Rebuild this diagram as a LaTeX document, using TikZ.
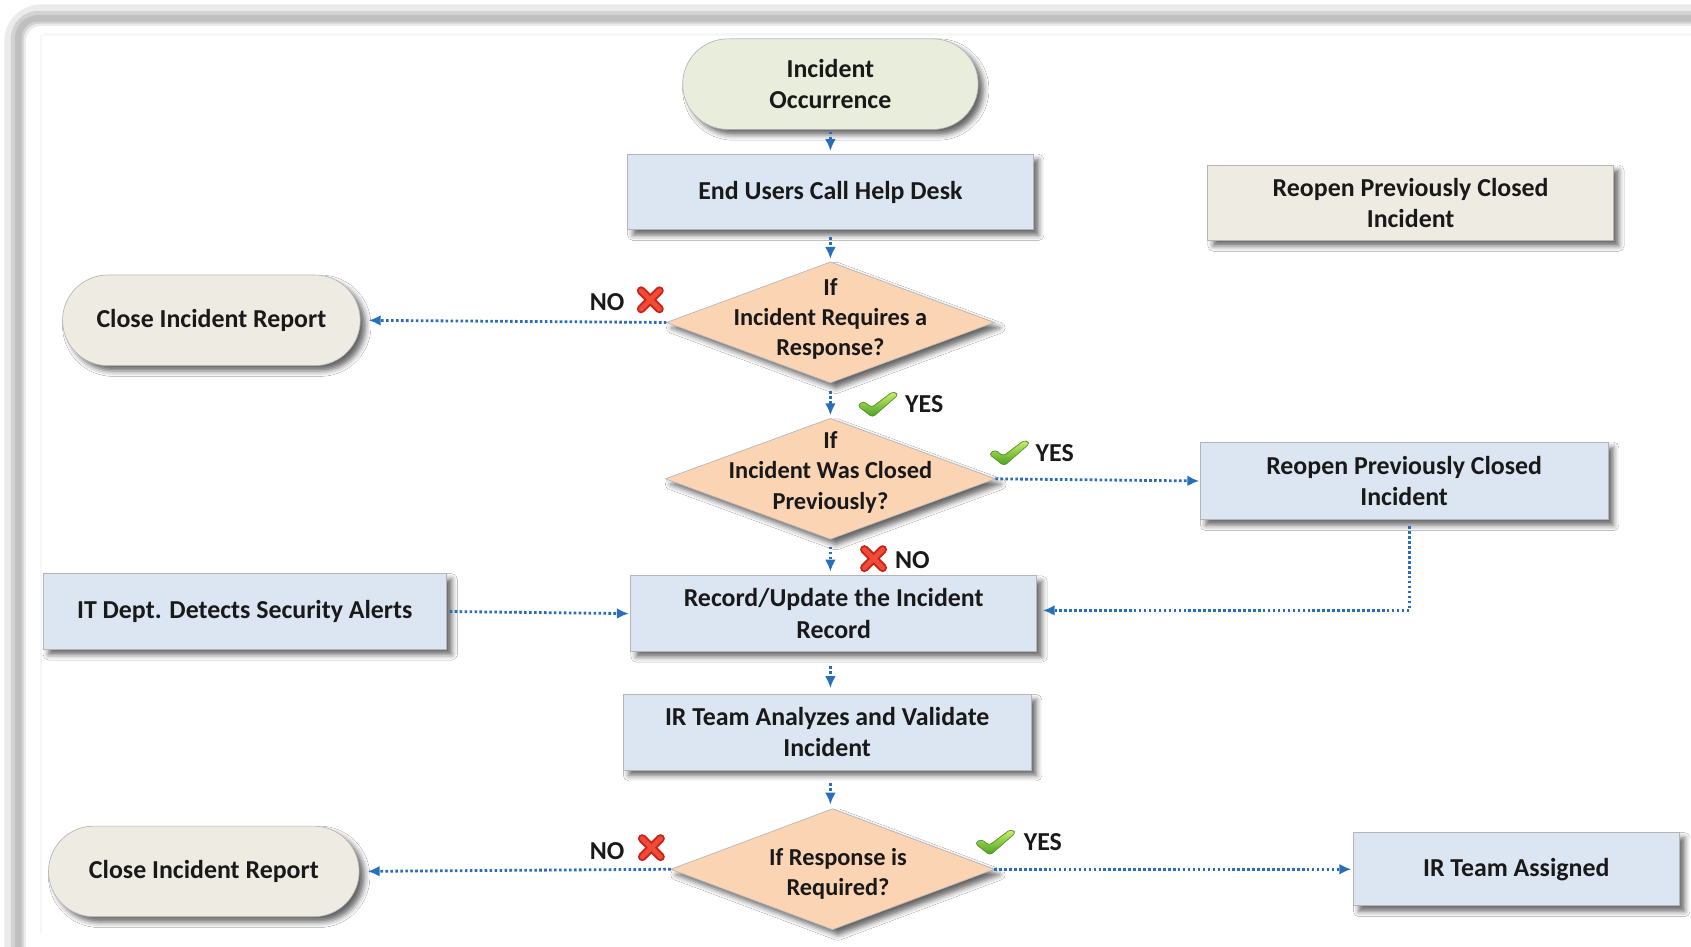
\documentclass[tikz,border=0pt]{standalone}
\usepackage{fontspec}
\setmainfont{Carlito}
\usetikzlibrary{shapes.geometric,shapes.misc,arrows.meta,shadows.blur}

\definecolor{occfill}{RGB}{233,237,219}
\definecolor{boxblue}{RGB}{220,230,242}
\definecolor{tanfill}{RGB}{238,236,226}
\definecolor{peach}{RGB}{251,212,180}
\definecolor{flowblue}{RGB}{40,110,185}
\definecolor{edgegray}{RGB}{180,180,180}
\definecolor{inkc}{RGB}{25,25,25}
\definecolor{tickhi}{RGB}{205,240,110}
\definecolor{ticklo}{RGB}{70,160,30}
\definecolor{tickedge}{RGB}{90,150,40}
\definecolor{crossdark}{RGB}{200,35,25}
\definecolor{crosslight}{RGB}{240,75,55}

\begin{document}
\begin{tikzpicture}[x=0.5pt,y=-0.5pt,
  font=\bfseries\fontsize{12}{14.5}\selectfont,
  every node/.style={inner sep=0pt, outer sep=0pt, text=inkc},
  softshadow/.style={blur shadow={shadow xshift=2.5pt, shadow yshift=-2.5pt,
      shadow blur radius=2.5pt, shadow opacity=60}},
  procbox/.style={rectangle, draw=edgegray, line width=0.4pt, fill=boxblue,
      align=center, softshadow},
  terminal/.style={rounded rectangle, draw=edgegray, line width=0.3pt,
      fill=tanfill, align=center, softshadow},
  decision/.style={diamond, draw=edgegray, line width=0.3pt, fill=peach, softshadow},
  dtext/.style={align=center, font=\bfseries\fontsize{11.3}{14}\selectfont},
  lbl/.style={},
  flowarrow/.style={draw=flowblue, line width=1.3pt, dash pattern=on 1.2pt off 1.1pt,
      -{Latex[length=5.5pt,width=5pt]}},
  okmark/.pic={
    \fill[top color=tickhi, bottom color=ticklo, draw=tickedge, line width=0.3pt,
          rounded corners=1.5pt]
      (-18,1) -- (-12,-3) -- (-5,3) -- (15,-12) -- (20,-9) -- (-4,12) -- cycle;
  },
  xmark/.pic={
    \draw[line width=4pt, line cap=round, crossdark] (-8.5,-8.5) -- (8.5,8.5) (-8.5,8.5) -- (8.5,-8.5);
    \draw[line width=2.2pt, line cap=round, crosslight] (-8.5,-8.5) -- (8.5,8.5) (-8.5,8.5) -- (8.5,-8.5);
  }
]
\useasboundingbox (0,0) rectangle (1568,878);
\clip (0,0) rectangle (1568,878);
\fill[white] (0,0) rectangle (1568,878);

% outer frame
\draw[line width=10pt, gray!16, rounded corners=12] (14,900) -- (14,14) -- (1600,14);
\draw[line width=6pt, gray!35, rounded corners=10] (16,900) -- (16,16) -- (1600,16);
\draw[line width=3pt, gray!50, rounded corners=9] (17,900) -- (17,17) -- (1600,17);
\draw[line width=1.5pt, gray!7] (40,32) -- (1568,32);
\draw[line width=1pt, gray!7] (38,32) -- (38,865);

% main column
\node[terminal, fill=occfill, minimum width=137pt, minimum height=42pt] (occ) at (770,78) {Incident\\Occurrence};
\node[procbox, minimum width=188pt, minimum height=35pt] (help) at (770,178) {End Users Call Help Desk};
\node[decision, minimum width=152pt, minimum height=56pt] (d1) at (770,299) {};
\node[dtext] (d1t) at (770,296) {If\\Incident Requires a\\Response?};
\node[decision, minimum width=153pt, minimum height=56pt] (d2) at (770,444) {};
\node[dtext] (d2t) at (770,438) {If\\Incident Was Closed\\Previously?};
\node[procbox, minimum width=188pt, minimum height=35pt] (rec) at (773,569) {Record/Update the Incident\\Record};
\node[procbox, minimum width=189pt, minimum height=35pt] (ira) at (767,679) {IR Team Analyzes and Validate\\Incident};
\node[decision, minimum width=150pt, minimum height=56pt] (d3) at (772,806) {};
\node[dtext] (d3t) at (777,810) {If Response is\\Required?};

% side boxes
\node[procbox, fill=tanfill, minimum width=188pt, minimum height=35pt] (reopenA) at (1308,188) {Reopen Previously Closed\\Incident};
\node[terminal, minimum width=138pt, minimum height=42pt] (close1) at (196,297) {Close Incident Report};
\node[procbox, minimum width=189pt, minimum height=36pt] (reopenB) at (1302,446) {Reopen Previously Closed\\Incident};
\node[procbox, minimum width=187pt, minimum height=35pt] (itdept) at (227,567) {IT Dept. Detects Security Alerts};
\node[terminal, minimum width=144pt, minimum height=42pt] (close2) at (189,808) {Close Incident Report};
\node[procbox, minimum width=151pt, minimum height=34pt] (irteam) at (1406,806) {IR Team Assigned};

% vertical flow
\draw[flowarrow, shorten <=1pt, shorten >=1.5pt] (occ.south) -- (help.north);
\draw[flowarrow, shorten <=3.5pt, shorten >=1.5pt] (help.south) -- (d1.north);
\draw[flowarrow, shorten <=4pt, shorten >=1.5pt] (d1.south) -- (d2.north);
\draw[flowarrow, shorten <=3.5pt, shorten >=2pt] (d2.south) -- (rec.north -| d2.south);
\draw[flowarrow, shorten <=7pt, shorten >=3pt] (rec.south -| d2.south) -- (ira.north -| d2.south);
\draw[flowarrow, shorten <=6pt, shorten >=2pt] (ira.south -| d2.south) -- (d3.north -| d2.south);

% branches
\draw[flowarrow, shorten >=4pt] (d1.west) -- (close1.east);
\draw[flowarrow, shorten >=0.5pt] (d2.east) -- (reopenB.west);
\draw[flowarrow, shorten <=3pt, shorten >=3pt] ([xshift=2.5pt]reopenB.south) |- ([yshift=1.5pt]rec.east);
\draw[flowarrow, shorten <=1.5pt, shorten >=1pt] (itdept.east) -- (rec.west);
\draw[flowarrow, shorten >=4pt] (d3.west) -- (close2.east);
\draw[flowarrow, shorten >=1pt] (d3.east) -- (irteam.west);

% branch labels
\node[lbl] (no1) at (563,280) {NO};
\pic at (603,278) {xmark};
\pic at (813,375) {okmark};
\node[lbl] (yes1) at (857,375) {YES};
\pic at (935,420) {okmark};
\node[lbl] (yes2) at (978,420) {YES};
\pic at (810,518) {xmark};
\node[lbl] (no2) at (846,519) {NO};
\node[lbl] (no3) at (563,789) {NO};
\pic at (604,786) {xmark};
\pic at (922,781) {okmark};
\node[lbl] (yes3) at (967,781) {YES};
\end{tikzpicture}
\end{document}
